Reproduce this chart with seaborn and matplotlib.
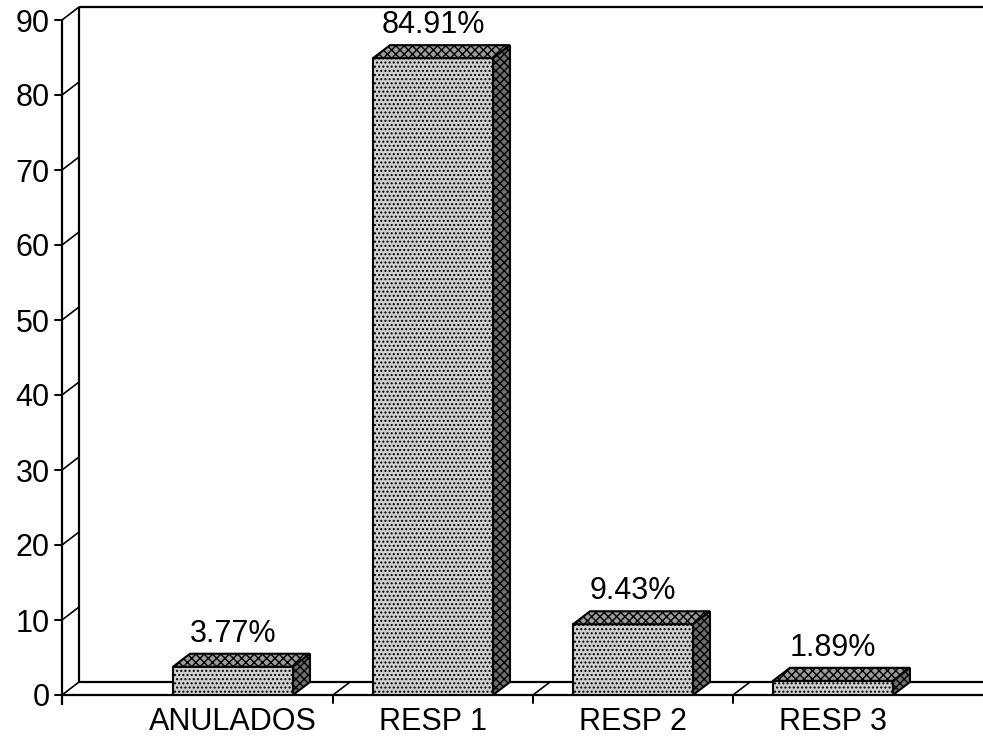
import matplotlib
matplotlib.use("Agg")
import matplotlib.pyplot as plt
from matplotlib.patches import Polygon
import seaborn as sns
import pandas as pd

categories = ["ANULADOS", "RESP 1", "RESP 2", "RESP 3"]
values = [3.77, 84.91, 9.43, 1.89]
labels = ["3.77%", "84.91%", "9.43%", "1.89%"]
y_ticks = [0, 10, 20, 30, 40, 50, 60, 70, 80, 90]

sns.set_style("white")
plt.rcParams["font.family"] = ["Liberation Sans", "DejaVu Sans"]
plt.rcParams["hatch.linewidth"] = 1.0
plt.rcParams["text.color"] = "black"
plt.rcParams["xtick.color"] = "black"
plt.rcParams["ytick.color"] = "black"

W, H = 983, 744
fig = plt.figure(figsize=(W / 100, H / 100), dpi=100)
fig.patch.set_facecolor("white")
ax = fig.add_axes([62 / W, 49 / H, (W - 62) / W, 675 / H])

df = pd.DataFrame({"cat": categories, "val": values})
sns.barplot(data=df, x="cat", y="val", width=0.6, color="#cfcfcf",
            edgecolor="black", linewidth=1.5, ax=ax, zorder=5)

x_lo, x_hi = -0.855, 3.75
ax.set_xlim(x_lo, x_hi)
ax.set_ylim(0, 90)

# pixel scale of the axes -> depth offset of the pseudo-3D box in data units
px_x = (W - 62) / (x_hi - x_lo)
px_y = 675 / 90
DX = 17 / px_x
DY = 13 / px_y

lw = 1.6
line_kw = dict(color="black", lw=lw, clip_on=False, solid_capstyle="butt")

# floor lines, back wall and side wall
ax.plot([x_lo, x_hi], [0, 0], zorder=2, **line_kw)
ax.plot([x_lo + DX, x_hi], [DY, DY], zorder=2, **line_kw)
ax.plot([x_lo, x_lo], [-1.3, 90], zorder=2, **line_kw)
ax.plot([x_lo + DX, x_lo + DX], [DY, 90 + DY], zorder=2, **line_kw)
ax.plot([x_lo + DX, x_hi], [90 + DY, 90 + DY], zorder=2, **line_kw)
for t in y_ticks:
    ax.plot([x_lo, x_lo + DX], [t, t + DY], color="black", lw=1.2,
            clip_on=False, zorder=2)
    ax.plot([x_lo - 7 / px_x, x_lo], [t, t], color="black", lw=1.4,
            clip_on=False, zorder=2)

# category separators on the floor
for b in [0.5, 1.5, 2.5]:
    ax.plot([b, b + DX], [0, DY], color="black", lw=1.2, zorder=2)
    ax.plot([b, b], [0, -1.0], color="black", lw=1.4, clip_on=False, zorder=2)

# 3D top and side faces for each bar
for p, lab in zip(ax.patches, labels):
    p.set_hatch("....")
    x0 = p.get_x()
    x1 = x0 + p.get_width()
    h = p.get_height()
    top = Polygon([(x0, h), (x1, h), (x1 + DX, h + DY), (x0 + DX, h + DY)],
                  closed=True, facecolor="#9c9c9c", edgecolor="black",
                  lw=1.5, hatch="xxxx", zorder=5)
    side = Polygon([(x1, 0), (x1 + DX, DY), (x1 + DX, h + DY), (x1, h)],
                   closed=True, facecolor="#6e6e6e", edgecolor="black",
                   lw=1.5, hatch="xxxx", zorder=5)
    ax.add_patch(top)
    ax.add_patch(side)
    ax.text((x0 + x1) / 2, h + DY + 5 / px_y, lab, ha="center", va="bottom",
            fontsize=22, color="black", zorder=6)

for s in ax.spines.values():
    s.set_visible(False)
ax.set_yticks(y_ticks)
ax.set_yticklabels([str(t) for t in y_ticks], fontsize=22)
ax.tick_params(axis="y", length=0, pad=9)
ax.set_xticks(range(len(categories)))
ax.set_xticklabels(categories, fontsize=22)
ax.tick_params(axis="x", length=0, pad=9)
ax.set_xlabel("")
ax.set_ylabel("")
ax.grid(False)

fig.savefig("out.png", dpi=100, facecolor="white")
